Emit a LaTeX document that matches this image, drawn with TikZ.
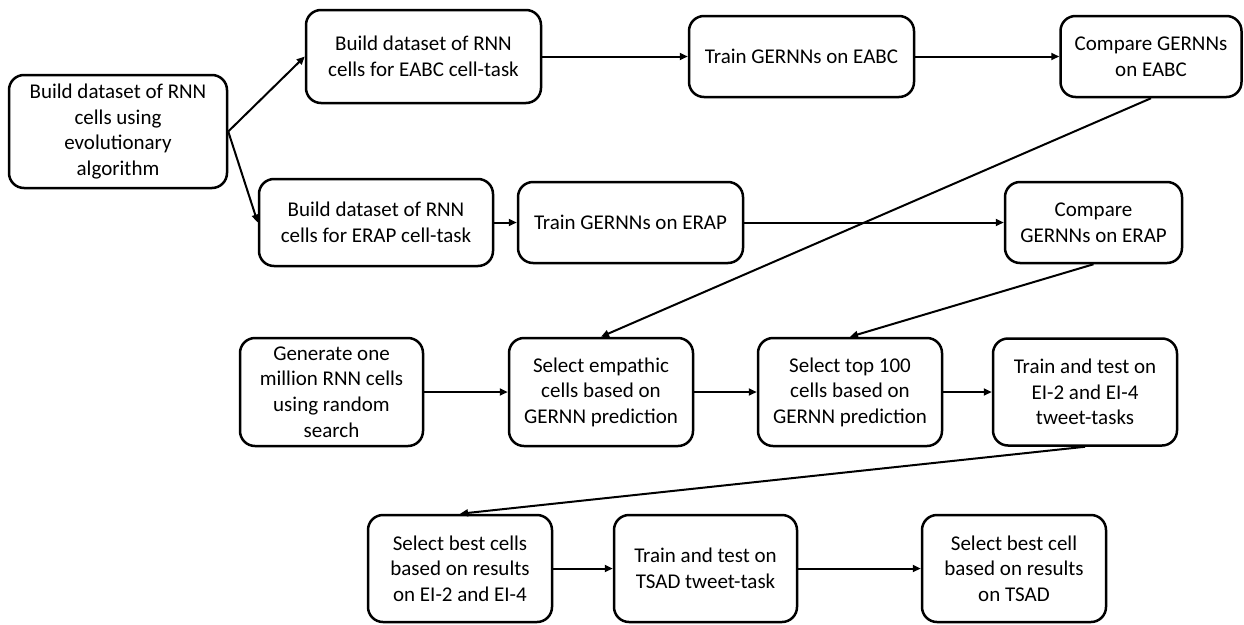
\documentclass[tikz,border=0pt]{standalone}
\usepackage{fontspec}
\setmainfont{Carlito}
\usetikzlibrary{arrows.meta}
\begin{document}
\begin{tikzpicture}[x=1pt,y=-1pt,
  box/.style={draw=black, line width=2.5pt, rounded corners=15pt, align=center,
    inner sep=0pt, font=\fontsize{21}{25.6}\selectfont},
  arr/.style={draw=black, line width=2pt, -{Triangle[length=8pt,width=7pt]}}]
\useasboundingbox (0,0) rectangle (1244,624);
\node[box, minimum width=218pt, minimum height=113pt] (b1) at (118,131.5)
  {Build dataset of RNN\\cells using\\evolutionary\\algorithm};
\node[box, minimum width=235pt, minimum height=93pt] (b2) at (423.5,56.5)
  {Build dataset of RNN\\cells for EABC cell-task};
\node[box, minimum width=225pt, minimum height=81pt] (b3) at (801.5,56.5)
  {Train GERNNs on EABC};
\node[box, minimum width=181pt, minimum height=81pt] (b4) at (1151,56.5)
  {Compare GERNNs\\on EABC};
\node[box, minimum width=234pt, minimum height=87pt] (b5) at (376,222.5)
  {Build dataset of RNN\\cells for ERAP cell-task};
\node[box, minimum width=225pt, minimum height=81pt] (b6) at (630.5,222.5)
  {Train GERNNs on ERAP};
\node[box, minimum width=177pt, minimum height=81pt] (b7) at (1093.5,222.5)
  {Compare\\GERNNs on ERAP};
\node[box, minimum width=183pt, minimum height=108pt] (b8) at (331.5,392)
  {Generate one\\million RNN cells\\using random\\search};
\node[box, minimum width=184pt, minimum height=108pt] (b9) at (601,392)
  {Select empathic\\cells based on\\GERNN prediction};
\node[box, minimum width=184pt, minimum height=108pt] (b10) at (850,392)
  {Select top 100\\cells based on\\GERNN prediction};
\node[box, minimum width=184pt, minimum height=107pt] (b11) at (1085,392)
  {Train and test on\\EI-2 and EI-4\\tweet-tasks};
\node[box, minimum width=184pt, minimum height=107pt] (b12) at (460,568.5)
  {Select best cells\\based on results\\on EI-2 and EI-4};
\node[box, minimum width=183pt, minimum height=107pt] (b13) at (705.5,568.5)
  {Train and test on\\TSAD tweet-task};
\node[box, minimum width=184pt, minimum height=107pt] (b14) at (1014,568.5)
  {Select best cell\\based on results\\on TSAD};
\draw[arr] (b1.east) -- (b2.west);
\draw[arr] (b1.east) -- (b5.west);
\draw[arr] (b2) -- (b3);
\draw[arr] (b3) -- (b4);
\draw[arr] (b5) -- (b6);
\draw[arr] (b6) -- (b7);
\draw[arr] (b4.south) -- (b9.north);
\draw[arr] (b7.south) -- (b10.north);
\draw[arr] (b8) -- (b9);
\draw[arr] (b9) -- (b10);
\draw[arr] (b10) -- (b11);
\draw[arr] (b11.south) -- (b12.north);
\draw[arr] (b12) -- (b13);
\draw[arr] (b13) -- (b14);
\end{tikzpicture}
\end{document}
